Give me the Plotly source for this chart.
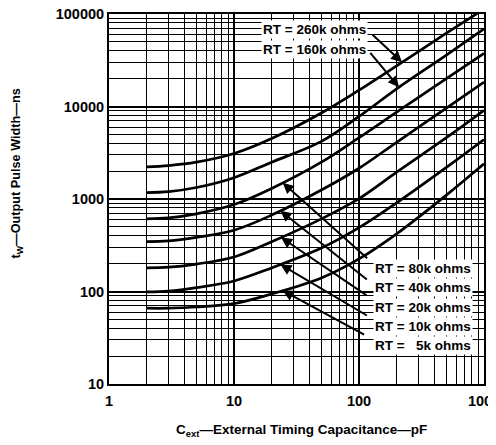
import numpy as np
import plotly.graph_objects as go

# Data (x: Cext in pF, y: tw in ns)
cext = [2, 3, 5, 10, 20, 50, 100, 200, 500, 1000]
rt_260k = [2230, 2300, 2500, 3100, 4500, 8500, 15000, 27500, 62000, 113000]
rt_160k = [1170, 1200, 1330, 1700, 2500, 4200, 7800, 15500, 36000, 69000]
rt_80k = [610, 625, 690, 870, 1300, 2500, 4600, 8700, 20000, 37500]
rt_40k = [346, 352, 385, 460, 670, 1250, 2150, 4100, 9600, 18300]
rt_20k = [180, 183, 198, 236, 345, 610, 1010, 1950, 4600, 9100]
rt_10k = [99, 101, 110, 130, 180, 295, 490, 910, 2200, 4400]
rt_5k = [66, 66, 68, 74, 94, 140, 225, 420, 1100, 2400]

series = [
    ("RT = 260k ohms", rt_260k),
    ("RT = 160k ohms", rt_160k),
    ("RT = 80k ohms", rt_80k),
    ("RT = 40k ohms", rt_40k),
    ("RT = 20k ohms", rt_20k),
    ("RT = 10k ohms", rt_10k),
    ("RT = \u00a0\u00a05k ohms", rt_5k),
]

x_tickvals = [1, 10, 100, 1000]
x_ticktext = ["1", "10", "100", "1000"]
y_tickvals = [10, 100, 1000, 10000, 100000]
y_ticktext = ["10", "100", "1000", "10000", "100000"]

FONT = "Liberation Sans, Arial, sans-serif"

fig = go.Figure()
for name, vals in series:
    fig.add_trace(go.Scatter(
        x=cext, y=vals, mode="lines", name=name,
        line=dict(color="black", width=2.7, shape="spline", smoothing=1.0),
        showlegend=False, hoverinfo="skip",
    ))


def curve_at(vals, xq):
    return float(10 ** np.interp(np.log10(xq), np.log10(cext), np.log10(vals)))


# arrow tip positions (x on curve) and pixel tail offsets
arrows = [
    (rt_260k, 221, -31, -29),
    (rt_160k, 209, -30, -36),
    (rt_80k, 24.5, 86, 77),
    (rt_40k, 23.5, 88, 70),
    (rt_20k, 23.8, 87, 59),
    (rt_10k, 23.5, 88, 52),
    (rt_5k, 24.5, 83, 45),
]
annotations = []
for vals, xt, ax, ay in arrows:
    yt = curve_at(vals, xt)
    annotations.append(dict(
        x=np.log10(xt), y=np.log10(yt), xref="x", yref="y",
        text="", showarrow=True, ax=ax, ay=ay,
        arrowhead=2, arrowsize=1.1, arrowwidth=2, arrowcolor="black",
    ))

# label texts
label_pos = [
    (0.405, 0.957), (0.405, 0.903),
    (0.703, 0.313), (0.703, 0.260), (0.703, 0.207), (0.703, 0.155), (0.703, 0.1035),
]
for (name, _), (px, py) in zip(series, label_pos):
    annotations.append(dict(
        x=px, y=py, xref="paper", yref="paper", text=name, showarrow=False,
        xanchor="left", yanchor="middle", bgcolor="white", borderpad=1,
        font=dict(size=13.5, color="black", family=FONT, weight="bold"),
    ))

annotations.append(dict(
    x=-0.246, y=0.568, xref="paper", yref="paper",
    text="t<sub>W</sub>\u2014Output Pulse Width\u2014ns", showarrow=False,
    textangle=-90, xanchor="center", yanchor="middle",
    font=dict(size=12.7, color="black", family=FONT, weight="bold"),
))
annotations.append(dict(
    x=0.513, y=-0.125, xref="paper", yref="paper",
    text="C<sub>ext</sub>\u2014External Timing Capacitance\u2014pF", showarrow=False,
    xanchor="center", yanchor="middle",
    font=dict(size=13.5, color="black", family=FONT, weight="bold"),
))

axis_common = dict(
    type="log", showline=True, linecolor="black", linewidth=2, mirror=True,
    showgrid=True, gridcolor="black", gridwidth=1.6, zeroline=False,
    automargin=False,
    ticks="", tickfont=dict(size=14.5, color="black", family=FONT, weight="bold"),
    ticklabeloverflow="allow",
    minor=dict(dtick="D1", showgrid=True, gridcolor="black", gridwidth=1.4, ticks=""),
)

# the page body adds an 8px margin; the figure is sized to reach the window edges
fig.update_layout(
    width=488, height=437,
    margin=dict(l=101, r=12, t=6, b=61),
    paper_bgcolor="white", plot_bgcolor="white",
    font=dict(family=FONT, color="black", weight="bold"),
    xaxis=dict(axis_common, range=[0, 3], tickvals=x_tickvals, ticktext=x_ticktext,
               ticklabelstandoff=3),
    yaxis=dict(axis_common, range=[1, 5], tickvals=y_tickvals, ticktext=y_ticktext),
    annotations=annotations,
)

fig.write_html("out.html")
